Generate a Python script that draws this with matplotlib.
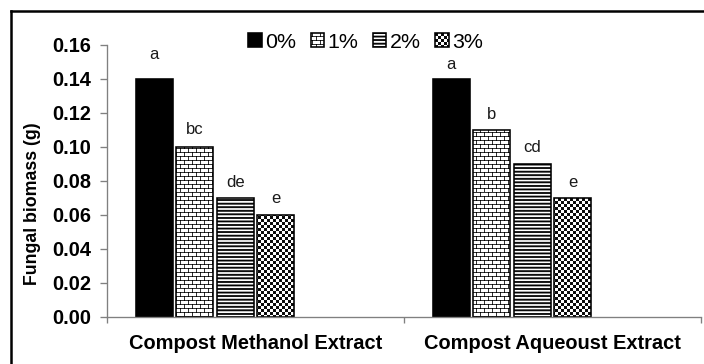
import numpy as np
import matplotlib
matplotlib.use('Agg')
import matplotlib.pyplot as plt
import matplotlib.hatch as mhatch
from matplotlib.path import Path
from matplotlib.lines import Line2D

# ---------------- data ----------------
categories = ['Compost Methanol Extract', 'Compost Aqueoust Extract']
series_names = ['0%', '1%', '2%', '3%']
vals_0 = [0.14, 0.14]
vals_1 = [0.10, 0.11]
vals_2 = [0.07, 0.09]
vals_3 = [0.06, 0.07]
letters_0 = ['a', 'a']
letters_1 = ['bc', 'b']
letters_2 = ['de', 'cd']
letters_3 = ['e', 'e']
yticks = [0.00, 0.02, 0.04, 0.06, 0.08, 0.10, 0.12, 0.14, 0.16]

# ---------------- style ----------------
DPI = 96
W, H = 704, 364
plt.rcParams['font.family'] = ['Liberation Sans', 'DejaVu Sans']
plt.rcParams['hatch.linewidth'] = 0.6

TILE = 96.0  # hatch tile size in pixels (72 pt at 96 dpi)


def _to_unit(verts):
    v = np.array(verts, float) / TILE
    v[:, 1] = 1.0 - v[:, 1]
    return v


def brick_path():
    verts, codes = [], []
    for k in range(24):
        y = 4 * k + 0.5
        verts += [(0, y), (96, y)]
        codes += [Path.MOVETO, Path.LINETO]
        for j in range(12):
            xx = 8 * j + 0.5 + (4 if k % 2 else 0)
            verts += [(xx, y), (xx, y + 4)]
            codes += [Path.MOVETO, Path.LINETO]
    return Path(_to_unit(verts), codes)


def stripe_path():
    verts, codes = [], []
    n = 27
    pitch = TILE / n
    for k in range(n):
        yc = pitch * k + 1.0
        y0, y1 = yc - 0.5, yc + 0.5
        verts += [(0, y0), (96, y0), (96, y1), (0, y1), (0, y0)]
        codes += [Path.MOVETO, Path.LINETO, Path.LINETO, Path.LINETO, Path.CLOSEPOLY]
    return Path(_to_unit(verts), codes)


def checker_path():
    verts, codes = [], []
    for i in range(32):
        for j in range(32):
            if (i + j) % 2 == 0:
                x0, x1 = 3 * i + 0.4, 3 * i + 2.6
                y0, y1 = 3 * j + 0.4, 3 * j + 2.6
                verts += [(x0, y0), (x1, y0), (x1, y1), (x0, y1), (x0, y0)]
                codes += [Path.MOVETO, Path.LINETO, Path.LINETO, Path.LINETO, Path.CLOSEPOLY]
    return Path(_to_unit(verts), codes)


_CUSTOM = {'+++': brick_path(), '-----': stripe_path(), 'xxxx': checker_path()}
_orig_get_path = mhatch.get_path


def _get_path(hatchpattern, density=6):
    if hatchpattern in _CUSTOM:
        return _CUSTOM[hatchpattern]
    return _orig_get_path(hatchpattern, density)


mhatch.get_path = _get_path

series_vals = [vals_0, vals_1, vals_2, vals_3]
series_letters = [letters_0, letters_1, letters_2, letters_3]
face_colors = ['black', 'white', 'white', 'white']
hatches = [None, '+++', '-----', 'xxxx']
label_pad_px = [[20, 10], [12.5, 11], [10.7, 12.3], [12.3, 10.6]]

px = 72.0 / DPI  # points per pixel

fig = plt.figure(figsize=(W / DPI, H / DPI), dpi=DPI)
ax = fig.add_axes([107 / W, 1 - 317 / H, 594 / W, 272 / H])

x = np.arange(len(categories))
slot = 0.1365
width = 0.124
for i in range(len(series_names)):
    offs = (i - 2.5) * slot
    bars = ax.bar(x + offs, series_vals[i], width, facecolor=face_colors[i],
                  edgecolor='black', linewidth=1.2, hatch=hatches[i],
                  label=series_names[i], zorder=2)
    for rect, lab, pad in zip(bars, series_letters[i], label_pad_px[i]):
        ax.annotate(lab, (rect.get_x() + rect.get_width() / 2, rect.get_height()),
                    xytext=(0, pad * px), textcoords='offset points',
                    ha='center', va='baseline', fontsize=12.5, color='#1a1a1a')

ax.set_xlim(-0.5, 1.5)
ax.set_ylim(0, 0.16)

axis_col = '#808080'
for s in ['top', 'right']:
    ax.spines[s].set_visible(False)
for s in ['left', 'bottom']:
    ax.spines[s].set_color(axis_col)
    ax.spines[s].set_linewidth(1.0)

ax.set_xticks([-0.5, 0.5, 1.5])
ax.set_xticklabels([])
ax.set_xticks(x, minor=True)
ax.set_xticklabels(categories, minor=True, fontweight='bold', fontsize=15)
ax.tick_params(axis='x', which='major', length=6 * px, width=1.0, color=axis_col, direction='out')
ax.tick_params(axis='x', which='minor', length=0, pad=17 * px)

ax.set_yticks(yticks)
ax.set_yticklabels([f'{v:.2f}' for v in yticks], fontweight='bold', fontsize=15)
ax.tick_params(axis='y', length=7 * px, width=1.0, color=axis_col, direction='out', pad=9 * px)

ax.set_ylabel('Fungal biomass (g)', fontweight='bold', fontsize=13.3)
ax.yaxis.set_label_coords((41 - 107) / 594, (317 - 203.5) / 272)

ax.legend(loc='center', bbox_to_anchor=(365.5 / W, 1 - 42 / H), bbox_transform=fig.transFigure,
          ncol=4, frameon=False, fontsize=16, handlelength=0.62, handleheight=0.62,
          handletextpad=0.15, columnspacing=0.7, borderpad=0, borderaxespad=0)

# outer frame (left and top edges visible)
fx = 10.7 / W
fy = 1 - 11.3 / H
fig.add_artist(Line2D([fx, fx], [0, fy], color='black', lw=2.5 * px,
                      solid_capstyle='projecting', transform=fig.transFigure))
fig.add_artist(Line2D([fx, 1], [fy, fy], color='black', lw=2.5 * px,
                      solid_capstyle='projecting', transform=fig.transFigure))

fig.savefig('out.png', dpi=DPI)
